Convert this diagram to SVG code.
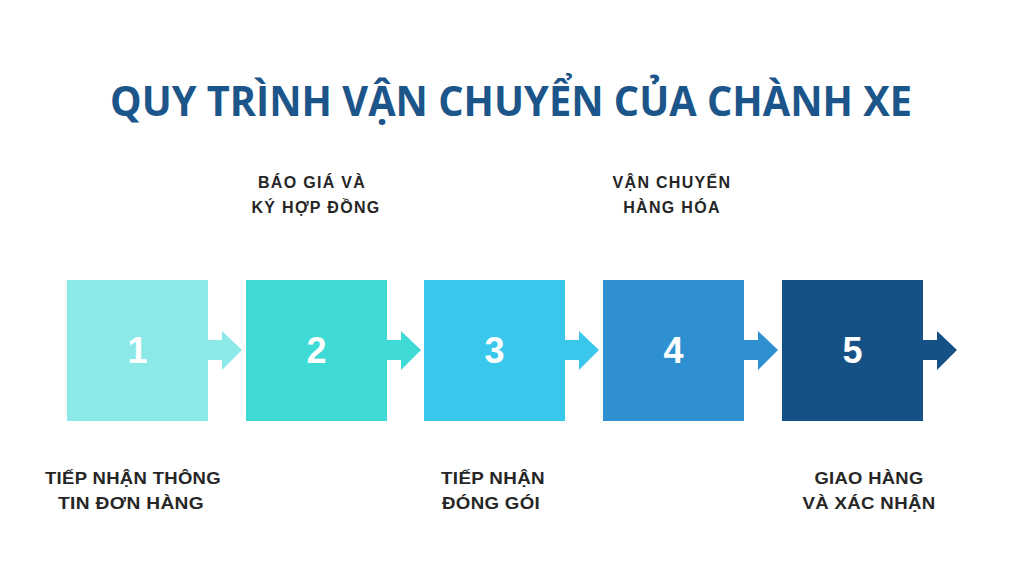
<svg xmlns="http://www.w3.org/2000/svg" width="1024" height="580" viewBox="0 0 1024 580">
<style>
.title{font-family:"Open Sans","Liberation Sans",sans-serif;font-weight:700;font-size:41px;fill:#1b5589;}
.num{font-family:"Liberation Sans",Arial,sans-serif;font-weight:700;font-size:36px;fill:#ffffff;text-anchor:middle;}
.lbl{font-family:"Liberation Sans",Arial,sans-serif;font-weight:700;font-size:16px;fill:#262626;text-anchor:middle;letter-spacing:1.3px;}
.lbl2{font-family:"Liberation Sans",Arial,sans-serif;font-weight:700;font-size:17px;fill:#262626;text-anchor:middle;letter-spacing:0.3px;}
</style>
<rect width="1024" height="580" fill="#ffffff"/>
<text class="title" x="511" y="116" text-anchor="middle" textLength="802" lengthAdjust="spacingAndGlyphs">QUY TRÌNH VẬN CHUYỂN CỦA CHÀNH XE</text>
<g id="connectors">
<path d="M208 340 H222 V331 L242 350 L222 370 V360 H208 Z" fill="#8de8e8"/>
<path d="M387 340 H401 V331 L421 350 L401 370 V360 H387 Z" fill="#3fd9d6"/>
<path d="M565 340 H579 V331 L599 350 L579 370 V360 H565 Z" fill="#39c8ec"/>
<path d="M744 340 H758 V331 L778 350 L758 370 V360 H744 Z" fill="#2f90d1"/>
<path d="M923 340 H937 V331 L957 350 L937 370 V360 H923 Z" fill="#165186"/>
</g>
<g id="node1"><rect x="67" y="280" width="141" height="141" fill="#8de8e8"/><text class="num" x="137.5" y="363">1</text></g>
<g id="node2"><rect x="246" y="280" width="141" height="141" fill="#3fd9d6"/><text class="num" x="316.5" y="363">2</text></g>
<g id="node3"><rect x="424" y="280" width="141" height="141" fill="#39c8ec"/><text class="num" x="494.5" y="363">3</text></g>
<g id="node4"><rect x="603" y="280" width="141" height="141" fill="#2f90d1"/><text class="num" x="673.5" y="363">4</text></g>
<g id="node5"><rect x="782" y="280" width="141" height="141" fill="#165186"/><text class="num" x="852.5" y="363">5</text></g>
<g id="labels">
<text class="lbl" x="312" y="188">BÁO GIÁ VÀ</text>
<text class="lbl" x="316" y="213">KÝ HỢP ĐỒNG</text>
<text class="lbl" x="672" y="188">VẬN CHUYỂN</text>
<text class="lbl" x="672" y="213">HÀNG HÓA</text>
<text class="lbl2" x="133" y="484" textLength="176" lengthAdjust="spacingAndGlyphs">TIẾP NHẬN THÔNG</text>
<text class="lbl2" x="131" y="509" textLength="146" lengthAdjust="spacingAndGlyphs">TIN ĐƠN HÀNG</text>
<text class="lbl2" x="493" y="484" textLength="104" lengthAdjust="spacingAndGlyphs">TIẾP NHẬN</text>
<text class="lbl2" x="491" y="509" textLength="98" lengthAdjust="spacingAndGlyphs">ĐÓNG GÓI</text>
<text class="lbl2" x="869" y="484" textLength="109" lengthAdjust="spacingAndGlyphs">GIAO HÀNG</text>
<text class="lbl2" x="869" y="509" textLength="133" lengthAdjust="spacingAndGlyphs">VÀ XÁC NHẬN</text>
</g>
</svg>
